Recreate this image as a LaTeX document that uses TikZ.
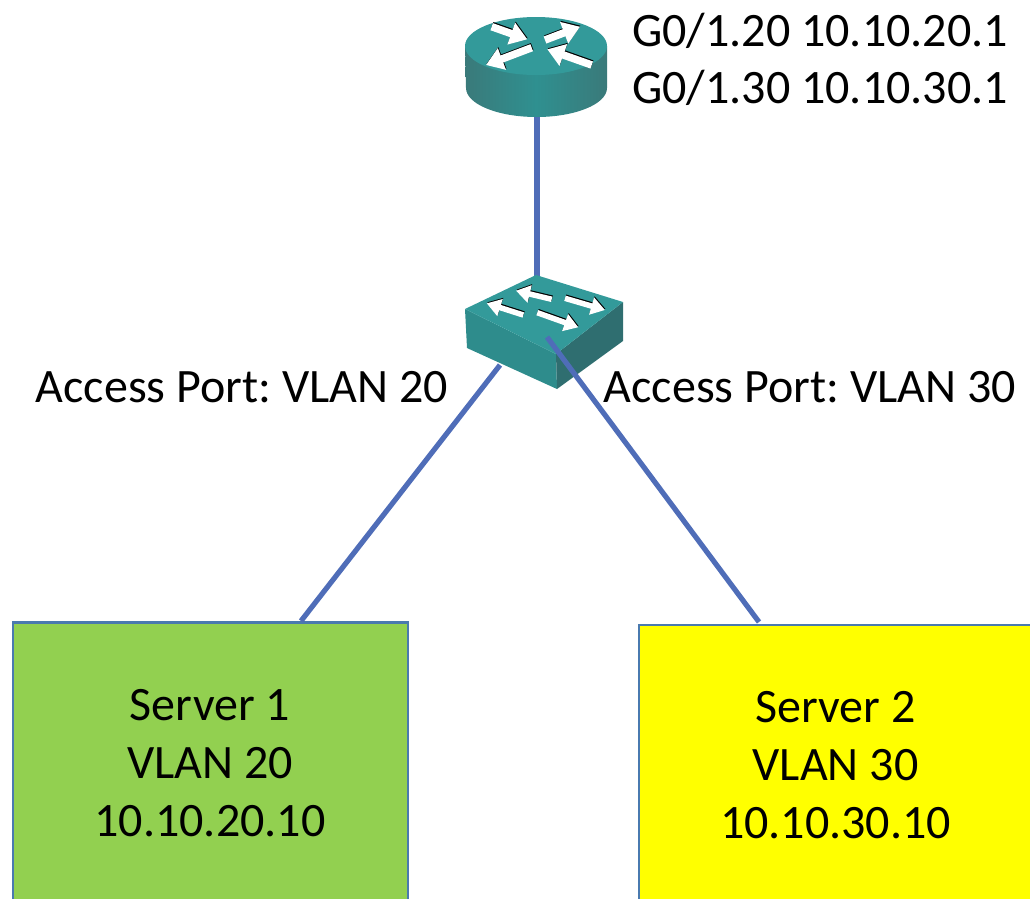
\documentclass[tikz,border=0pt]{standalone}
\usepackage{fontspec}
\setmainfont{Carlito}
\usetikzlibrary{arrows.meta,calc}
\definecolor{wire}{HTML}{4F6DB8}
\definecolor{boxedge}{HTML}{4A7AAF}
\definecolor{srvgreen}{HTML}{92D050}
\definecolor{srvyellow}{HTML}{FFFF00}
\definecolor{tealtop}{HTML}{339A9A}
\definecolor{tealmid}{HTML}{2F9090}
\definecolor{tealedge}{HTML}{3A7A7A}
\definecolor{tealfront}{HTML}{2E8C8C}
\definecolor{tealdark}{HTML}{2F6E70}
\tikzset{
  x=1pt,y=-1pt,
  lbl/.style={font=\frenchspacing\fontsize{48}{58}\selectfont,inner sep=0pt,text=black},
  srvbox/.style={draw=boxedge,line width=2.5pt,anchor=north west,inner sep=0pt},
  wireline/.style={draw=wire,line width=5.2pt},
  anchorbox/.style={inner sep=0pt,minimum width=1pt,minimum height=1pt},
  bigflow/.style={line width=7.5pt,-{Triangle[length=17pt,width=22pt]}},
  smallflow/.style={line width=5.5pt,-{Triangle[length=14pt,width=17pt]}},
}
\newcommand{\flowarrow}[5]{%
  \draw[#1,draw=black] ($(#2,#3)+(0.5,-1.1)$) -- ($(#4,#5)+(0.5,-1.1)$);
  \draw[#1,draw=white] (#2,#3) -- (#4,#5);
}
\begin{document}
\begin{tikzpicture}
\useasboundingbox (0,0) rectangle (1030,898);
\clip (0,0) rectangle (1030,898);
% server boxes
\node[srvbox,fill=srvgreen,minimum width=395pt,minimum height=320pt] (s1) at (11.5,621) {};
\node[srvbox,fill=srvyellow,minimum width=400pt,minimum height=320pt] (s2) at (637.5,623.5) {};
% connector anchors
\coordinate (rbot) at (537,116);
\coordinate (stop) at (537,277);
\coordinate (sleft) at (500,365);
\coordinate (sfront) at (547,337);
\coordinate (s1top) at (301,621);
\coordinate (s2top) at (759,622);
% wires behind devices
\draw[wireline] (rbot) -- (stop);
\draw[wireline] (sleft) -- (s1top);
% router
\path[left color=tealedge,right color=tealedge,middle color=tealmid]
  (465,46) -- (466,88) arc[start angle=180,end angle=0,x radius=70.5,y radius=29] -- (607,46) -- cycle;
\node[anchorbox] (router) at (537,67) {};
\fill[tealtop] (536,46) ellipse[x radius=71,y radius=29];
\flowarrow{bigflow}{491.7}{26.7}{527.3}{39.3}
\flowarrow{bigflow}{545}{40}{580}{26.7}
\flowarrow{bigflow}{531.7}{47.7}{486}{65}
\flowarrow{bigflow}{591.7}{65}{547.3}{49.3}
% switch
\fill[tealfront] (465,309) -- (556,354) -- (557,389) -- (467,348) -- cycle;
\fill[tealdark] (556,354) -- (623,302) -- (623,341) -- (557,389) -- cycle;
\fill[tealtop] (536,275) -- (623,302) -- (556,354) -- (465,309) -- cycle;
\node[anchorbox] (switch) at (545,330) {};
\flowarrow{smallflow}{551.7}{299.3}{516}{290.7}
\flowarrow{smallflow}{565}{298.3}{605}{310}
\flowarrow{smallflow}{523.3}{315}{486.7}{303.3}
\flowarrow{smallflow}{537.3}{312.7}{578.3}{327.3}
% front wire over the switch
\draw[wireline] (sfront) -- (s2top);
% labels
\node[lbl,anchor=base west] (g20) at (632,46) {G0/1.20 10.10.20.1};
\node[lbl,anchor=base west] (g30) at (632,103) {G0/1.30 10.10.30.1};
\node[lbl,anchor=base west] (ap20) at (35.5,402) {Access Port: VLAN 20};
\node[lbl,anchor=base west] (ap30) at (603.5,402) {Access Port: VLAN 30};
\node[lbl,align=center] (t1) at (210,763) {Server 1\\VLAN 20\\10.10.20.10};
\node[lbl,align=center] (t2) at (835.5,765) {Server 2\\VLAN 30\\10.10.30.10};
\end{tikzpicture}
\end{document}
